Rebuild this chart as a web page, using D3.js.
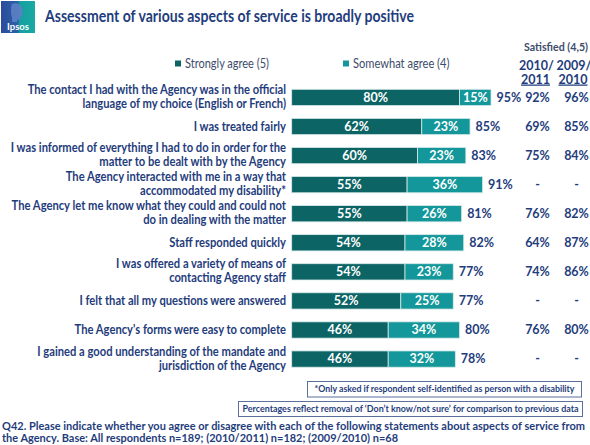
<!DOCTYPE html>
<html><head><meta charset="utf-8">
<script src="https://cdn.jsdelivr.net/npm/d3@7"></script>
<style>
html,body{margin:0;padding:0;background:#fff;}
svg{display:block;font-family:Lato,"Open Sans",sans-serif;}
</style></head>
<body>
<svg id="chart" width="590" height="445"></svg>
<script>
const title = "Assessment of various aspects of service is broadly positive";
const categories = [
  ["The contact I had with the Agency was in the official", "language of my choice (English or French)"],
  ["I was treated fairly"],
  ["I was informed of everything I had to do in order for the", "matter to be dealt with by the Agency"],
  ["The Agency interacted with me in a way that", "accommodated my disability*"],
  ["The Agency let me know what they could and could not", "do in dealing with the matter"],
  ["Staff responded quickly"],
  ["I was offered a variety of means of", "contacting Agency staff"],
  ["I felt that all my questions were answered"],
  ["The Agency's forms were easy to complete"],
  ["I gained a good understanding of the mandate and", "jurisdiction of the Agency"]
];
const stronglyAgree = [80, 62, 60, 55, 55, 54, 54, 52, 46, 46];
const somewhatAgree = [15, 23, 23, 36, 26, 28, 23, 25, 34, 32];
const totalAgree = [95, 85, 83, 91, 81, 82, 77, 77, 80, 78];
const sat2011 = ["92%", "69%", "75%", "-", "76%", "64%", "74%", "-", "76%", "-"];
const sat2010 = ["96%", "85%", "84%", "-", "82%", "87%", "86%", "-", "80%", "-"];
const seriesNames = ["Strongly agree (5)", "Somewhat agree (4)"];
const footnote1 = "*Only asked if respondent self-identified as person with a disability";
const footnote2 = "Percentages reflect removal of \u2018Don\u2019t know/not sure\u2019 for comparison to previous data";
const questionText = [
  "Q42. Please indicate whether you agree or disagree with each of the following statements about aspects of service from",
  "the Agency.  Base: All respondents  n=189; (2010/2011) n=182; (2009/2010) n=68"
];

const C_DARK = "#0c6465", C_LIGHT = "#13979a", C_TEXT = "#1f3d7c";
const svg = d3.select("#chart");

function squeeze(sel, k) {
  sel.each(function() {
    const w = this.getComputedTextLength();
    d3.select(this).attr("textLength", w * k).attr("lengthAdjust", "spacingAndGlyphs");
  });
  return sel;
}
function fitTo(sel, w) {
  return sel.attr("textLength", w).attr("lengthAdjust", "spacingAndGlyphs");
}

// Logo
const defs = svg.append("defs");
const lg = defs.append("linearGradient").attr("id","lg").attr("x1","0").attr("x2","1");
lg.append("stop").attr("offset","0").attr("stop-color","#2c4a9c");
lg.append("stop").attr("offset","0.5").attr("stop-color","#2a62a8");
lg.append("stop").attr("offset","0.55").attr("stop-color","#14a0a0");
lg.append("stop").attr("offset","1").attr("stop-color","#1aa9a3");
svg.append("rect").attr("x",1).attr("y",1).attr("width",34).attr("height",32).attr("fill","url(#lg)");
svg.append("path").attr("d","M12,4 C14,3 18,3 20,5 C23,7 23,11 22,13 L23,16 L21,16 L21,19 L17,20 L17,22 L12,22 C13,18 11,16 11,12 C11,8 11,6 12,4 Z").attr("fill","#5c7fc4").attr("opacity",0.9);
svg.append("text").attr("x",18).attr("y",30).attr("text-anchor","middle").attr("fill","#fff")
  .attr("font-size",9.5).attr("font-weight","bold").text("Ipsos");

fitTo(svg.append("text").attr("x",45).attr("y",21.5).attr("fill",C_TEXT).attr("font-size",17)
  .attr("font-weight","bold").text(title), 369);

// Scales
const x = d3.scaleLinear().domain([0, 100]).range([291.7, 501.5]);
const y = d3.scaleBand().domain(d3.range(categories.length)).range([82.9, 373.6])
  .paddingInner(0.44).paddingOuter(0.22);
const bh = y.bandwidth();

// Legend
const legendX = [175, 343];
const legendW = [84, 96.5];
const colors = [C_DARK, C_LIGHT];
seriesNames.forEach((n, i) => {
  svg.append("rect").attr("x", legendX[i]).attr("y", 60.5).attr("width", 6).attr("height", 6).attr("fill", colors[i]);
  fitTo(svg.append("text").attr("x", legendX[i] + 10).attr("y", 67.5).attr("fill", "#3d4c6b")
    .attr("font-size", 12.5).text(n), legendW[i]);
});

// Headers
fitTo(svg.append("text").attr("x",524).attr("y",51).attr("fill","#3d4c6b")
  .attr("font-size",10.5).attr("font-weight","bold").text("Satisfied (4,5)"), 64);
[[536.5,"2010/","2011"],[574,"2009/","2010"]].forEach(h => {
  svg.append("text").attr("x",h[0]).attr("y",69.5).attr("text-anchor","middle").attr("fill",C_TEXT)
    .attr("font-size",12.5).attr("font-weight","bold").text(h[1]);
  svg.append("text").attr("x",h[0]-1).attr("y",83.5).attr("text-anchor","middle").attr("fill",C_TEXT)
    .attr("font-size",12.5).attr("font-weight","bold").attr("text-decoration","underline").text(h[2]);
});

// Category labels
const rows = svg.append("g");
categories.forEach((lines, i) => {
  const cy = y(i) + bh / 2;
  lines.forEach((ln, j) => {
    const off = lines.length > 1 ? (j - 0.5) * 14 - 0.5 : 0;
    const t = rows.append("text").attr("text-anchor","end").attr("fill",C_TEXT)
      .attr("font-size",12.3).attr("font-weight","bold")
      .attr("x", 286).attr("y", cy + 4 + off).text(ln);
    squeeze(t, 0.91);
  });
});

// Bars
const data = categories.map((c, i) => ({i, s: stronglyAgree[i], w: somewhatAgree[i], t: totalAgree[i]}));
const g = svg.append("g");
g.selectAll(".s").data(data).join("rect").attr("class","s")
  .attr("x", d => x(0)).attr("y", d => y(d.i)).attr("width", d => x(d.s) - x(0)).attr("height", bh)
  .attr("fill", C_DARK).attr("stroke","#d8eaea").attr("stroke-width",0.8);
g.selectAll(".w").data(data).join("rect").attr("class","w")
  .attr("x", d => x(d.s)).attr("y", d => y(d.i)).attr("width", d => x(d.s + d.w) - x(d.s)).attr("height", bh)
  .attr("fill", C_LIGHT).attr("stroke","#d8eaea").attr("stroke-width",0.8);
g.selectAll(".sl").data(data).join("text").attr("class","sl")
  .attr("x", d => (x(0) + x(d.s)) / 2).attr("y", d => y(d.i) + bh / 2 + 4.3)
  .attr("text-anchor","middle").attr("fill","#fff").attr("font-size",12.5).attr("font-weight","bold")
  .text(d => d.s + "%");
g.selectAll(".wl").data(data).join("text").attr("class","wl")
  .attr("x", d => (x(d.s) + x(d.s + d.w)) / 2).attr("y", d => y(d.i) + bh / 2 + 4.3)
  .attr("text-anchor","middle").attr("fill","#fff").attr("font-size",12.5).attr("font-weight","bold")
  .text(d => d.w + "%");
g.selectAll(".tl").data(data).join("text").attr("class","tl")
  .attr("x", d => x(d.t) + 5.5).attr("y", d => y(d.i) + bh / 2 + 4.3)
  .attr("fill",C_TEXT).attr("font-size",12.5).attr("font-weight","bold")
  .text(d => d.t + "%");
g.selectAll(".y1").data(data).join("text").attr("class","y1")
  .attr("x", 537.5).attr("y", d => y(d.i) + bh / 2 + 4.3)
  .attr("text-anchor","middle").attr("fill",C_TEXT).attr("font-size",12.5).attr("font-weight","bold")
  .text(d => sat2011[d.i]);
g.selectAll(".y2").data(data).join("text").attr("class","y2")
  .attr("x", 576.5).attr("y", d => y(d.i) + bh / 2 + 4.3)
  .attr("text-anchor","middle").attr("fill",C_TEXT).attr("font-size",12.5).attr("font-weight","bold")
  .text(d => sat2010[d.i]);

// Footnote boxes
[[307.5,381.5,274,15.5,footnote1,260],[238.5,401.5,344,15,footnote2,336]].forEach(b => {
  svg.append("rect").attr("x",b[0]).attr("y",b[1]).attr("width",b[2]).attr("height",b[3])
    .attr("fill","#fff").attr("stroke","#5a6f9a").attr("stroke-width",1);
  fitTo(svg.append("text").attr("x",b[0]+b[2]/2).attr("y",b[1]+b[3]/2+3.2).attr("text-anchor","middle")
    .attr("fill",C_TEXT).attr("font-size",9.2).attr("font-weight","bold").text(b[4]), b[5]);
});
const qW = [583, 396];
questionText.forEach((t, i) => {
  fitTo(svg.append("text").attr("x",2).attr("y",429.5 + i * 12.5).attr("fill",C_TEXT)
    .attr("font-size",11).attr("font-weight","bold").text(t), qW[i]);
});
</script>
</body></html>
